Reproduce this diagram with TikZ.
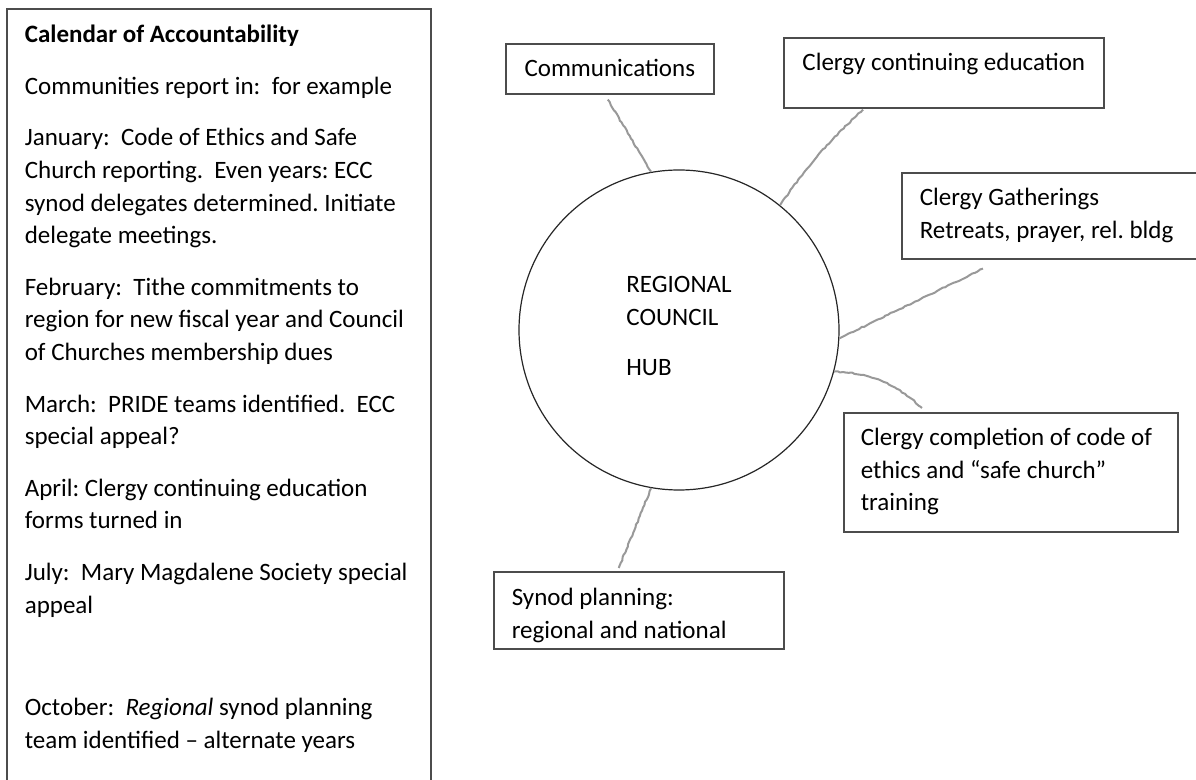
\documentclass[tikz,border=0pt]{standalone}
\usepackage{fontspec}
\setmainfont{Carlito}
\usetikzlibrary{decorations.pathmorphing}
\newcommand{\hubfont}{\fontsize{12.5}{16.3}\selectfont\frenchspacing\hyphenpenalty=10000\relax}

\begin{document}
\begin{tikzpicture}[x=0.5pt,y=-0.5pt,
	font=\hubfont,
	box/.style={draw=black!70, line width=0.8pt, anchor=north west,
		inner xsep=9pt, inner ysep=0pt, align=flush left,
		execute at begin node={\spaceskip=0pt\xspaceskip=0pt}},
	link/.style={draw=black!40, line width=1pt, decorate,
		decoration={random steps, segment length=1.5pt, amplitude=0.3pt}}]
	\useasboundingbox (0,0) rectangle (1196,780);
	
	% calendar
	\node[box, text width=194pt, text height=17pt, text depth=379pt] (cal) at (6,8) {%
		\setlength{\parskip}{9.5pt}%
		\textbf{Calendar of Accountability}\par
		Communities report in:~ for example\par
		January:~ Code of Ethics and Safe\\
		Church reporting.~ Even years: ECC\\
		synod delegates determined. Initiate\\
		delegate meetings.\par
		February:~ Tithe commitments to\\
		region for new fiscal year and Council\\
		of Churches membership dues\par
		March:~ PRIDE teams identified.~ ECC\\
		special appeal?\par
		April: Clergy continuing education\\
		forms turned in\par
		July:~ Mary Magdalene Society special\\
		appeal\par
		\vspace{25.5pt}%
		October:~ \textit{Regional} synod planning\\
		team identified -- alternate years};
	
	% hub
	\node[circle, draw=black!85, line width=0.6pt, minimum size=160pt,
		inner sep=0pt, align=left] (hub) at (679,330)
		{REGIONAL\\COUNCIL\\[9pt]HUB\\[-12.3pt]};
	
	\node[box, minimum width=104pt, text height=16.5pt, text depth=8.5pt] (comm) at (505,43) {Communications};
	\node[box, minimum width=160pt, text height=16.5pt, text depth=18.5pt] (cce) at (783,37) {Clergy continuing education};
	\node[box, text width=136.5pt, text height=16.5pt, text depth=26.5pt] (cg) at (901,172)
		{Clergy Gatherings\\Retreats, prayer, rel. bldg};
	\node[box, inner xsep=8.5pt, text width=150pt, text height=16.5pt, text depth=43pt] (cc) at (843,412)
		{Clergy completion of code of\\ethics and “safe church”\\training};
	\node[box, text width=127pt, text height=17pt, text depth=21.5pt] (synod) at (493,571)
		{Synod planning:\\regional and national};
	
	% spokes
	\draw[link] ([xshift=-1pt,yshift=-2.5pt]comm.south) -- (hub.100);
	\draw[link] ([xshift=40pt,yshift=-0.5pt]cce.south west) to[bend right=6] (hub.51);
	\draw[link] ([xshift=41pt,yshift=-4.5pt]cg.south west) -- (hub.-3);
	\draw[link] (hub.-15) to[bend left=20] ([xshift=39.5pt,yshift=2pt]cc.north west);
	\draw[link] (hub.-100) -- ([xshift=-10pt,yshift=1.5pt]synod.north);
	
\end{tikzpicture}
\end{document}
